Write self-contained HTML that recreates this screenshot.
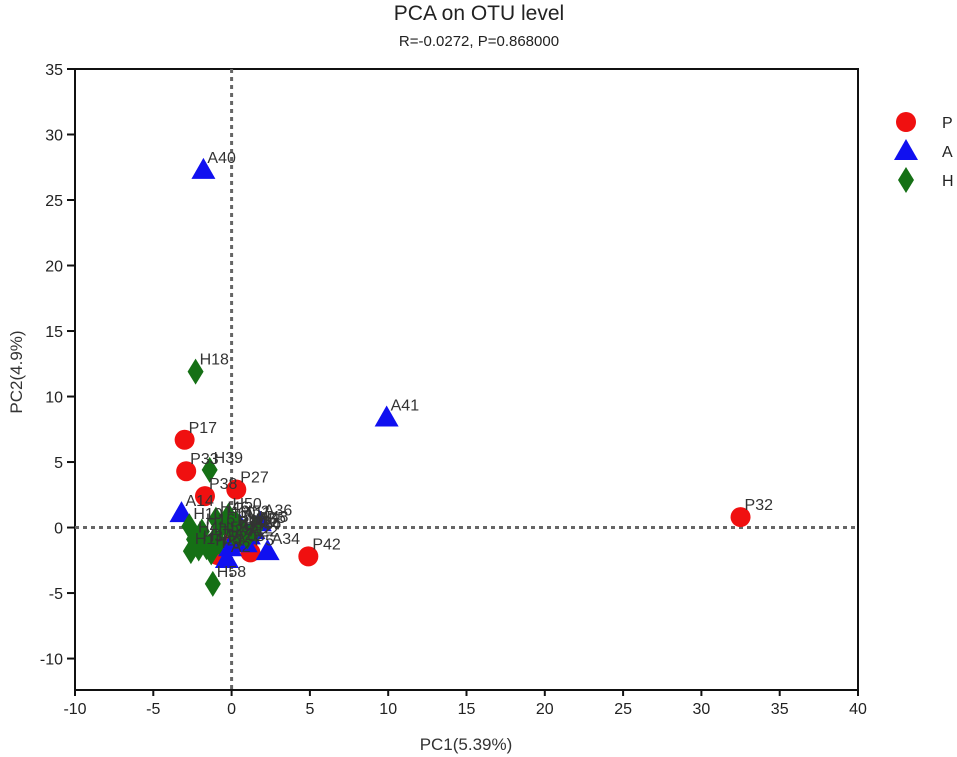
<!DOCTYPE html>
<html><head><meta charset="utf-8"><style>
body{margin:0;background:#fff;}
svg{display:block;font-family:"Liberation Sans",Arial,sans-serif;}
</style></head><body>
<svg id="chart" width="957" height="757">
<text x="479" y="20" text-anchor="middle" font-size="21" fill="#222">PCA on OTU level</text>
<text x="479" y="46" text-anchor="middle" font-size="15" fill="#222">R=-0.0272, P=0.868000</text>
<g id="axes"></g>
<g id="points"></g>
<g id="legend"></g>
<text x="466" y="750" text-anchor="middle" font-size="17" fill="#333">PC1(5.39%)</text>
<text x="0" y="0" transform="translate(22,372) rotate(-90)" text-anchor="middle" font-size="17" fill="#333">PC2(4.9%)</text>
</svg>
<script>
const xTicks=[-10,-5,0,5,10,15,20,25,30,35,40];
const yTicks=[-10,-5,0,5,10,15,20,25,30,35];
const groups=["P","A","H"];
const names=["P17","P33","P38","P27","P32","P42","P5","P9","P12","P14","P20",
"A40","A41","A14","A34","A2","A35","A36","A8","A22","A11","A26","A29",
"H18","H39","H58","H1","H3","H7","H10","H46","H60","H4","H16","H21","H25","H30","H33","H44","H48","H50","H52","H55","H57"];
const grp=["P","P","P","P","P","P","P","P","P","P","P",
"A","A","A","A","A","A","A","A","A","A","A","A",
"H","H","H","H","H","H","H","H","H","H","H","H","H","H","H","H","H","H","H","H","H"];
const pc1=[-3.0,-2.9,-1.7,0.3,32.5,4.9,1.2,-0.9,0.6,0.2,-0.5,
-1.8,9.9,-3.2,2.3,-0.3,1.4,1.8,0.2,0.9,0.5,1.1,-0.1,
-2.3,-1.4,-1.2,-2.6,-2.1,-1.6,-2.7,-1.0,-0.6,-2.4,-1.9,-1.3,-0.8,0.1,0.5,1.0,1.5,-0.2,0.3,0.8,-1.1];
const pc2=[6.7,4.3,2.4,2.9,0.8,-2.2,-1.9,-2.1,-1.0,-0.5,-1.6,
27.3,8.4,1.1,-1.8,-2.4,-0.2,0.4,-0.8,-1.2,0.2,-0.6,-1.5,
11.9,4.4,-4.3,-1.8,-1.6,-1.5,0.1,0.6,0.2,-0.9,-0.3,-1.9,-1.1,-0.4,-0.6,-0.7,-0.1,0.9,0.3,-0.3,-0.9];
const xmin=-10,xmax=40,ymin=-12.4,ymax=35;
const L=75,R=858,T=69,B=690;
const sx=v=>L+(v-xmin)/(xmax-xmin)*(R-L);
const sy=v=>B-(v-ymin)/(ymax-ymin)*(B-T);
const NS="http://www.w3.org/2000/svg";
function mk(tag,attrs,parent){const e=document.createElementNS(NS,tag);for(const k in attrs)e.setAttribute(k,attrs[k]);parent.appendChild(e);return e;}
const ax=document.getElementById('axes');
let e=mk('rect',{x:L,y:T,width:R-L,height:B-T,fill:'none',stroke:'#111','stroke-width':2},ax);


e=mk('line',{x1:sx(0),x2:sx(0),y1:T,y2:B,stroke:'#666','stroke-width':3,'stroke-dasharray':'4,4'},ax);


e=mk('line',{x1:L,x2:R,y1:sy(0),y2:sy(0),stroke:'#666','stroke-width':3,'stroke-dasharray':'4,4'},ax);


xTicks.forEach(v=>{mk('line',{x1:sx(v),x2:sx(v),y1:B,y2:B+6,stroke:'#111','stroke-width':2},ax);
 const t=mk('text',{x:sx(v),y:B+24,'text-anchor':'middle','font-size':16,fill:'#222'},ax);t.textContent=v;
 
 });
yTicks.forEach(v=>{mk('line',{x1:L-8,x2:L,y1:sy(v),y2:sy(v),stroke:'#111','stroke-width':2},ax);
 const t=mk('text',{x:L-12,y:sy(v)+6,'text-anchor':'end','font-size':16,fill:'#222'},ax);t.textContent=v;
 
 });
const col={P:'#f01010',A:'#1010f0',H:'#157015'};
function marker(g,x,y,parent){
 if(g==='P')return mk('circle',{cx:x,cy:y,r:10,fill:col.P},parent);
 if(g==='A')return mk('polygon',{points:`${x},${y-12} ${x-12},${y+9} ${x+12},${y+9}`,fill:col.A},parent);
 return mk('polygon',{points:`${x},${y-13} ${x+8},${y} ${x},${y+13} ${x-8},${y}`,fill:col.H},parent);
}
const pg=document.getElementById('points');
names.forEach((n,i)=>{const x=sx(pc1[i]),y=sy(pc2[i]);
 const m=marker(grp[i],x,y,pg);
 
 });
names.forEach((n,i)=>{const x=sx(pc1[i]),y=sy(pc2[i]);
 const t=mk('text',{x:x+4,y:y-7,'font-size':16,fill:'#333'},pg);t.textContent=n;
 
 });
const lg=document.getElementById('legend');
groups.forEach((g,i)=>{const y=122+i*29;
 const m=marker(g,906,y,lg);
 
 
 const t=mk('text',{x:942,y:y+6,'font-size':16,fill:'#222'},lg);t.textContent=g;
 
 });
</script>
</body></html>
